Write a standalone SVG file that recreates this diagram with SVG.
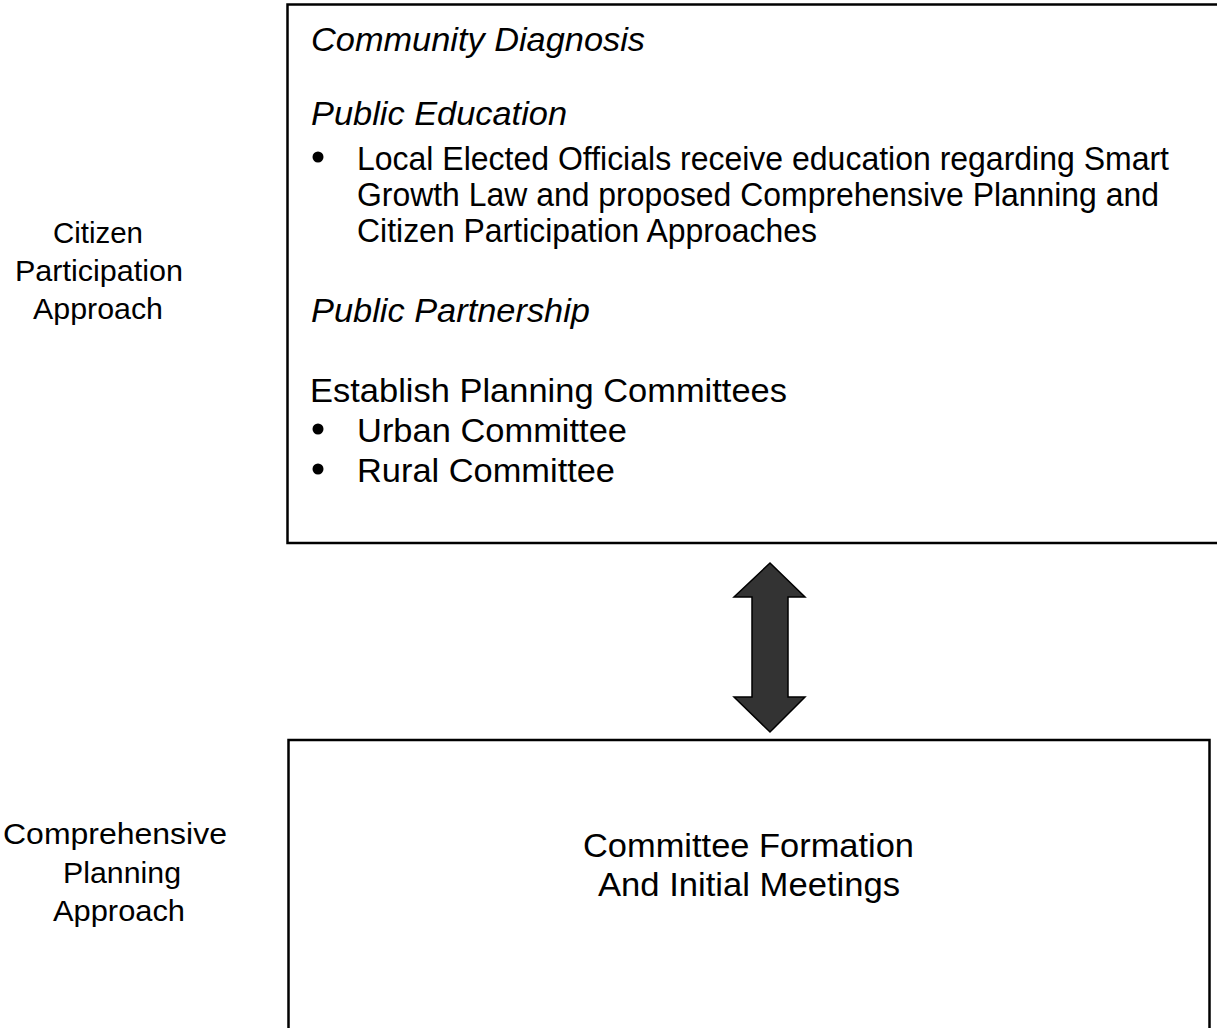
<svg xmlns="http://www.w3.org/2000/svg" width="1217" height="1028" viewBox="0 0 1217 1028">
<style>
.box{fill:#fff;stroke:#000;stroke-width:2.5}
.t{font-family:"Liberation Sans",Arial,sans-serif;font-size:33px;fill:#000}
.i{font-style:italic}
.lab{font-family:"Liberation Sans",Arial,sans-serif;font-size:29px;fill:#000;text-anchor:middle}
.arrow{fill:#333;stroke:#000;stroke-width:1.5;stroke-linejoin:miter}
</style>
<rect width="1217" height="1028" fill="#fff"/>
<g id="label-citizen">
<text class="lab" x="98" y="243" textLength="90" lengthAdjust="spacingAndGlyphs">Citizen</text>
<text class="lab" x="99" y="281" textLength="168" lengthAdjust="spacingAndGlyphs">Participation</text>
<text class="lab" x="98" y="319" textLength="130" lengthAdjust="spacingAndGlyphs">Approach</text>
</g>
<g id="label-comprehensive">
<text class="lab" x="115" y="844" textLength="224" lengthAdjust="spacingAndGlyphs">Comprehensive</text>
<text class="lab" x="122" y="883" textLength="118" lengthAdjust="spacingAndGlyphs">Planning</text>
<text class="lab" x="119" y="921" textLength="132" lengthAdjust="spacingAndGlyphs">Approach</text>
</g>
<g id="node-citizen">
<rect class="box" x="287.5" y="4.5" width="940" height="538.5"/>
<text class="t i" x="311" y="51" textLength="334" lengthAdjust="spacingAndGlyphs">Community Diagnosis</text>
<text class="t i" x="311" y="125" textLength="256" lengthAdjust="spacingAndGlyphs">Public Education</text>
<circle cx="318" cy="157" r="5.5"/>
<text class="t" x="357" y="170" textLength="812" lengthAdjust="spacingAndGlyphs">Local Elected Officials receive education regarding Smart</text>
<text class="t" x="357" y="206" textLength="802" lengthAdjust="spacingAndGlyphs">Growth Law and proposed Comprehensive Planning and</text>
<text class="t" x="357" y="242" textLength="460" lengthAdjust="spacingAndGlyphs">Citizen Participation Approaches</text>
<text class="t i" x="311" y="322" textLength="279" lengthAdjust="spacingAndGlyphs">Public Partnership</text>
<text class="t" x="310" y="402" textLength="477" lengthAdjust="spacingAndGlyphs">Establish Planning Committees</text>
<circle cx="318" cy="429" r="5.5"/>
<text class="t" x="357" y="442" textLength="270" lengthAdjust="spacingAndGlyphs">Urban Committee</text>
<circle cx="318" cy="469" r="5.5"/>
<text class="t" x="357" y="482" textLength="258" lengthAdjust="spacingAndGlyphs">Rural Committee</text>
</g>
<g id="connectors">
<polygon class="arrow" points="770,563 805,597 788,597 788,697 805,697 770,732 734,697 752,697 752,597 734,597"/>
</g>
<g id="node-comprehensive">
<rect class="box" x="288.5" y="740" width="921" height="310"/>
<text class="t" x="583" y="857" textLength="331" lengthAdjust="spacingAndGlyphs">Committee Formation</text>
<text class="t" x="598" y="896" textLength="302" lengthAdjust="spacingAndGlyphs">And Initial Meetings</text>
</g>
</svg>
